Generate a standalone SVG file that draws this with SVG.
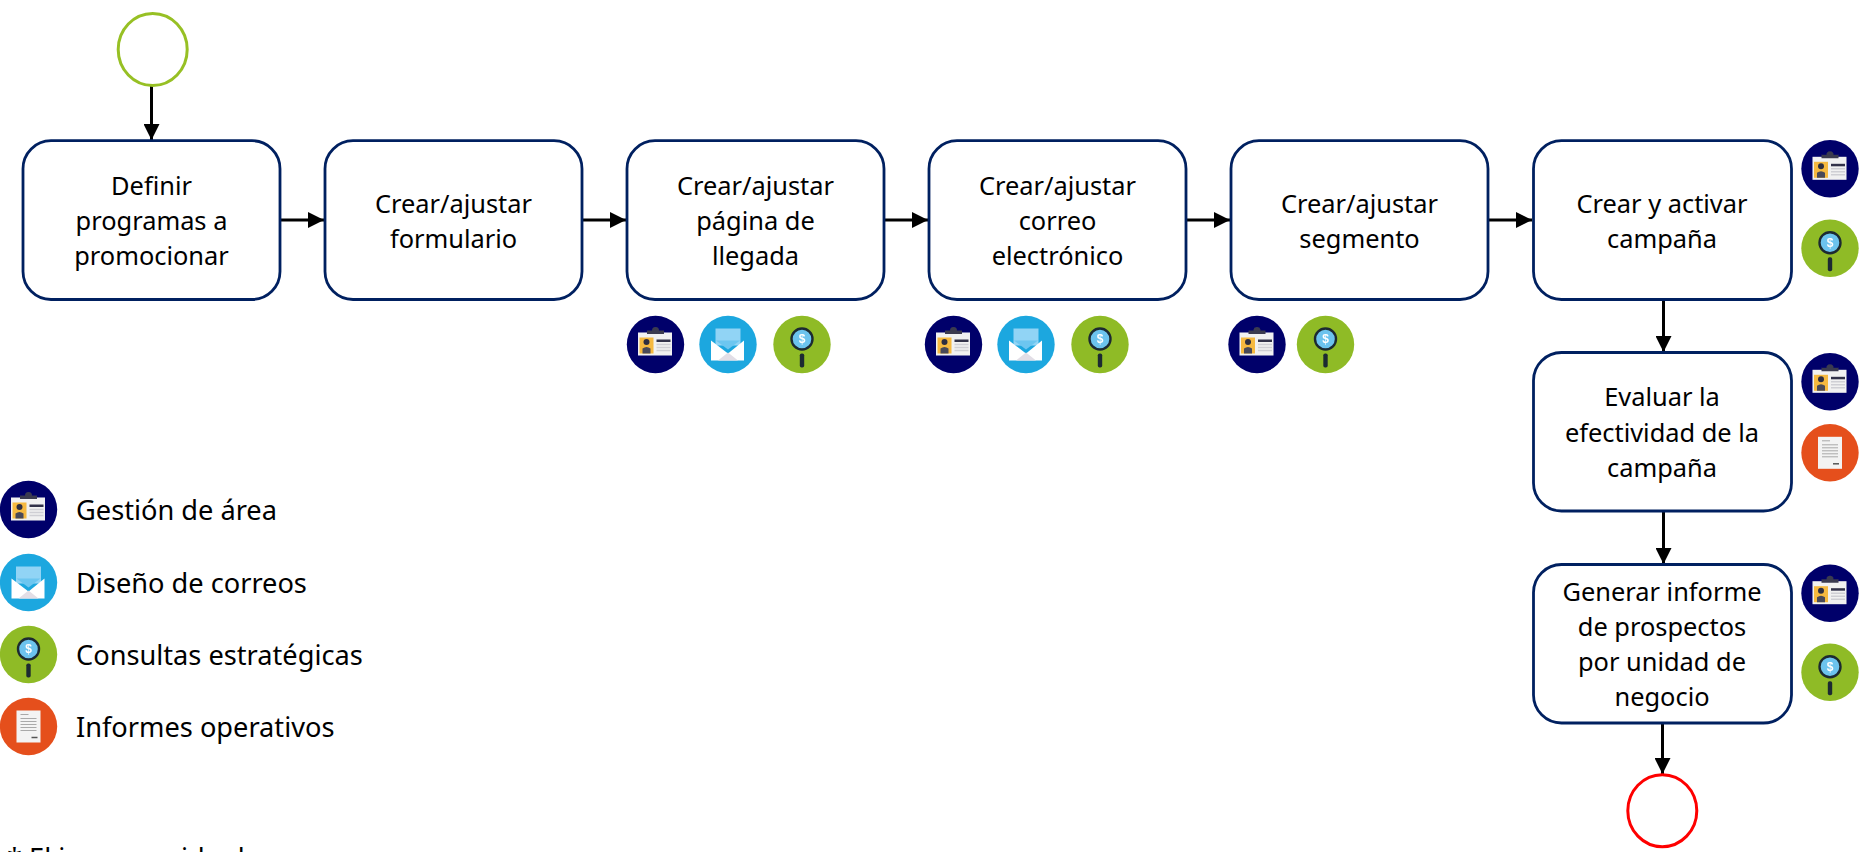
<svg xmlns="http://www.w3.org/2000/svg" width="1864" height="852" viewBox="0 0 1864 852">
<style>
text{font-family:"Noto Sans","Open Sans","Liberation Sans",sans-serif;font-size:25.4px;fill:#000;font-variant-ligatures:none}
.t{text-anchor:middle}
.l,#note{font-size:27.2px}
.box{fill:#fff;stroke:#002060;stroke-width:2.8}
.ev{fill:#fff;stroke-width:3}
.c{fill:none;stroke:#000;stroke-width:3}
#i-lens .d{font-family:"Liberation Sans",sans-serif;font-size:12px;font-weight:700;fill:#fff;text-anchor:middle}
</style>
<defs>
<marker id="arrow" markerUnits="userSpaceOnUse" markerWidth="16" markerHeight="16" refX="16" refY="8" orient="auto"><path d="M0 0L16 8L0 16Z" fill="#000"/></marker>
<filter id="soft" x="-5%" y="-5%" width="110%" height="110%"><feGaussianBlur stdDeviation="0.6"/></filter>
<g id="i-area" filter="url(#soft)">
<circle r="28.7" fill="#02026b"/>
<rect x="-17.5" y="-12" width="34" height="23" fill="#f1f1f1"/>
<path d="M-8.500-12v-2h5a3.500 3.500 0 0 1 7 0h5v3.500h-17z" fill="#3a3a50"/>
<rect x="-16" y="-7" width="14" height="16" fill="#f6b93f"/>
<circle cx="-9" cy="-2.500" r="3" fill="#2e2e40"/><path d="M-13 9v-5q4-3 8 0v5z" fill="#4a4a58"/>
<rect x="1" y="-5" width="14" height="2.500" fill="#33334a"/>
<path d="M1 0h14M1 3h14M1 6h14" stroke="#cfcfd4" stroke-width="1.500"/>
</g>
<g id="i-mail" filter="url(#soft)">
<circle r="28.7" fill="#1ca7df"/>
<rect x="-12.500" y="-16" width="25" height="17" fill="#91d4f5"/>
<path d="M-17-4L0 9L16-4V16H-17Z" fill="#fff"/>
<path d="M-10 16L0 8L10 16Z" fill="#e2dee6"/>
<path d="M-12-4H12L0 5Z" fill="#6cc6f0"/>
</g>
<g id="i-lens" filter="url(#soft)">
<circle r="28.7" fill="#8fbb25"/>
<circle cx="0" cy="-5.500" r="10.500" fill="#6cc3ee" stroke="#1d2b30" stroke-width="2.400"/>
<text class="d" x="0" y="-1.200">$</text>
<rect x="-2.200" y="9" width="4.400" height="14" rx="1.800" fill="#1d2b30"/>
</g>
<g id="i-doc" filter="url(#soft)">
<circle r="28.7" fill="#e5501c"/>
<rect x="-12" y="-16" width="24" height="32" fill="#f3f3f3"/>
<path d="M-8-12h8M-8-8h16M-8-5h16M-8-2h16M-8 1h16M-8 4h16" stroke="#a9a9a9" stroke-width="1"/>
<path d="M3 11h6" stroke="#555" stroke-width="1.500"/>
</g>
</defs>

<g id="connectors">
<path class="c" marker-end="url(#arrow)" d="M151.500 86V140"/>
<path class="c" marker-end="url(#arrow)" d="M281 220H324"/>
<path class="c" marker-end="url(#arrow)" d="M583 220H626"/>
<path class="c" marker-end="url(#arrow)" d="M885 220H928"/>
<path class="c" marker-end="url(#arrow)" d="M1187 220H1230"/>
<path class="c" marker-end="url(#arrow)" d="M1489 220H1532"/>
<path class="c" marker-end="url(#arrow)" d="M1663.500 300V352"/>
<path class="c" marker-end="url(#arrow)" d="M1663.500 511V564"/>
<path class="c" marker-end="url(#arrow)" d="M1662.500 723V774"/>
</g>

<g id="start"><ellipse class="ev" cx="152.700" cy="49.500" rx="34.500" ry="36" stroke="#97c024"/></g>
<g id="end"><ellipse class="ev" cx="1662.300" cy="810.700" rx="34.500" ry="36" stroke="#fe0000"/></g>

<g id="n1"><rect class="box" x="23" y="140.700" width="257" height="158.800" rx="28"/>
<text class="t" x="151.500" y="195">Definir</text><text class="t" x="151.500" y="230">programas a</text><text class="t" x="151.500" y="265">promocionar</text></g>
<g id="n2"><rect class="box" x="325" y="140.700" width="257" height="158.800" rx="28"/>
<text class="t" x="453.500" y="213">Crear/ajustar</text><text class="t" x="453.500" y="248">formulario</text></g>
<g id="n3"><rect class="box" x="627" y="140.700" width="257" height="158.800" rx="28"/>
<text class="t" x="755.500" y="195">Crear/ajustar</text><text class="t" x="755.500" y="230">página de</text><text class="t" x="755.500" y="265">llegada</text></g>
<g id="n4"><rect class="box" x="929" y="140.700" width="257" height="158.800" rx="28"/>
<text class="t" x="1057.500" y="195">Crear/ajustar</text><text class="t" x="1057.500" y="230">correo</text><text class="t" x="1057.500" y="265">electrónico</text></g>
<g id="n5"><rect class="box" x="1231" y="140.700" width="257" height="158.800" rx="28"/>
<text class="t" x="1359.500" y="213">Crear/ajustar</text><text class="t" x="1359.500" y="248">segmento</text></g>
<g id="n6"><rect class="box" x="1533.500" y="140.700" width="258" height="158.800" rx="28"/>
<text class="t" x="1662" y="213">Crear y activar</text><text class="t" x="1662" y="248">campaña</text></g>
<g id="n7"><rect class="box" x="1533.500" y="352.500" width="258" height="158.500" rx="28"/>
<text class="t" x="1662" y="406">Evaluar la</text><text class="t" x="1662" y="441.500">efectividad de la</text><text class="t" x="1662" y="477">campaña</text></g>
<g id="n8"><rect class="box" x="1533.500" y="564.500" width="258" height="158.500" rx="28"/>
<text class="t" x="1662" y="601">Generar informe</text><text class="t" x="1662" y="636">de prospectos</text><text class="t" x="1662" y="671">por unidad de</text><text class="t" x="1662" y="706">negocio</text></g>

<g id="icons">
<use href="#i-area" x="655.500" y="344.500"/><use href="#i-mail" x="728" y="344.500"/><use href="#i-lens" x="802" y="344.500"/>
<use href="#i-area" x="953.500" y="344.500"/><use href="#i-mail" x="1026" y="344.500"/><use href="#i-lens" x="1100" y="344.500"/>
<use href="#i-area" x="1257" y="344.500"/><use href="#i-lens" x="1325.500" y="344.500"/>
<use href="#i-area" x="1830" y="168.800"/><use href="#i-lens" x="1830" y="248.200"/>
<use href="#i-area" x="1830" y="381.800"/><use href="#i-doc" x="1830" y="452.800"/>
<use href="#i-area" x="1830" y="593.200"/><use href="#i-lens" x="1830" y="672.200"/>
</g>

<g id="legend">
<use href="#i-area" x="28.500" y="509.500"/><text class="l" x="76" y="520">Gestión de área</text>
<use href="#i-mail" x="28.500" y="582.500"/><text class="l" x="76" y="592.500">Diseño de correos</text>
<use href="#i-lens" x="28.500" y="654.500"/><text class="l" x="76" y="665">Consultas estratégicas</text>
<use href="#i-doc" x="28.500" y="726.500"/><text class="l" x="76" y="737">Informes operativos</text>
</g>

<text id="note" y="868"><tspan x="7">* El i</tspan><tspan x="181">id</tspan><tspan x="228">d</tspan></text>
</svg>
